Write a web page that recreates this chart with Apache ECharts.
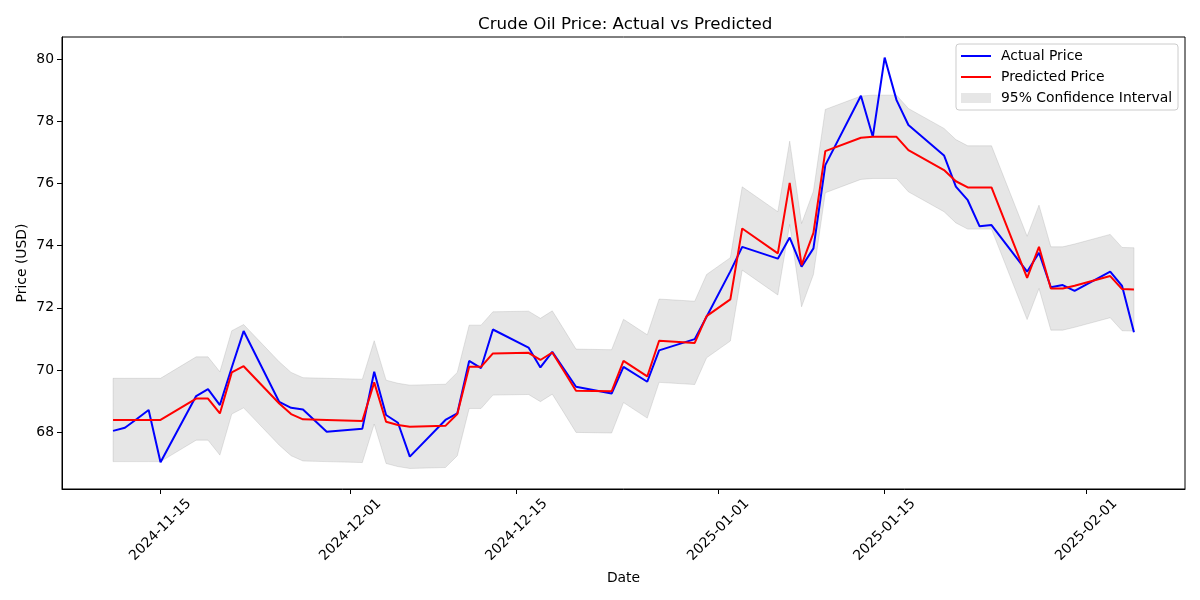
<!DOCTYPE html>
<html>
<head>
<meta charset="utf-8">
<script src="https://cdn.jsdelivr.net/npm/echarts@6/dist/echarts.min.js"></script>
<style>
  html, body { margin: 0; padding: 0; background: #fff; }
  #chart { width: 1200px; height: 600px; }
</style>
</head>
<body>
<div id="chart"></div>
<script>
// trading days shown in the chart
const dates = [
  "2024-11-11", "2024-11-12", "2024-11-13", "2024-11-14", "2024-11-15",
  "2024-11-18", "2024-11-19", "2024-11-20", "2024-11-21", "2024-11-22",
  "2024-11-25", "2024-11-26", "2024-11-27", "2024-11-29",
  "2024-12-02", "2024-12-03", "2024-12-04", "2024-12-05", "2024-12-06",
  "2024-12-09", "2024-12-10", "2024-12-11", "2024-12-12", "2024-12-13",
  "2024-12-16", "2024-12-17", "2024-12-18", "2024-12-19", "2024-12-20",
  "2024-12-23", "2024-12-24", "2024-12-26", "2024-12-27",
  "2024-12-30", "2024-12-31", "2025-01-02", "2025-01-03",
  "2025-01-06", "2025-01-07", "2025-01-08", "2025-01-09", "2025-01-10",
  "2025-01-13", "2025-01-14", "2025-01-15", "2025-01-16", "2025-01-17",
  "2025-01-20", "2025-01-21", "2025-01-22", "2025-01-23", "2025-01-24",
  "2025-01-27", "2025-01-28", "2025-01-29", "2025-01-30", "2025-01-31",
  "2025-02-03", "2025-02-04", "2025-02-05"
];
const actualPrice = [
  68.04, 68.14, 68.42, 68.71, 67.03,
  69.16, 69.38, 68.87, 70.08, 71.25,
  68.97, 68.78, 68.73, 68.01,
  68.11, 69.94, 68.55, 68.30, 67.21,
  68.39, 68.60, 70.29, 70.06, 71.30,
  70.72, 70.08, 70.58, 70.02, 69.46,
  69.24, 70.10, 69.62, 70.63,
  70.99, 71.71, 73.17, 73.96,
  73.58, 74.26, 73.32, 73.91, 76.59,
  78.82, 77.50, 80.05, 78.68, 77.88,
  76.90, 75.90, 75.46, 74.62, 74.66,
  73.16, 73.77, 72.66, 72.73, 72.54,
  73.16, 72.70, 71.21
];
const predictedPrice = [
  68.39, 68.39, 68.39, 68.39, 68.39,
  69.08, 69.08, 68.60, 69.92, 70.12,
  68.92, 68.58, 68.41, 68.39,
  68.36, 69.60, 68.33, 68.23, 68.17,
  68.20, 68.58, 70.10, 70.10, 70.53,
  70.55, 70.32, 70.56, 69.95, 69.33,
  69.31, 70.29, 69.79, 70.94,
  70.87, 71.73, 72.27, 74.55,
  73.75, 76.02, 73.37, 74.41, 77.04,
  77.47, 77.50, 77.50, 77.50, 77.07,
  76.43, 76.07, 75.87, 75.87, 75.87,
  72.96, 73.96, 72.62, 72.62, 72.71,
  73.02, 72.60, 72.59
];
const ciLower = [
  67.05, 67.05, 67.05, 67.05, 67.05,
  67.74, 67.74, 67.26, 68.58, 68.78,
  67.58, 67.24, 67.07, 67.05,
  67.02, 68.26, 66.99, 66.89, 66.83,
  66.86, 67.24, 68.76, 68.76, 69.19,
  69.21, 68.98, 69.22, 68.61, 67.99,
  67.97, 68.95, 68.45, 69.60,
  69.53, 70.39, 70.93, 73.21,
  72.41, 74.68, 72.03, 73.07, 75.70,
  76.13, 76.16, 76.16, 76.16, 75.73,
  75.09, 74.73, 74.53, 74.53, 74.53,
  71.62, 72.62, 71.28, 71.28, 71.37,
  71.68, 71.26, 71.25
];
const ciUpper = [
  69.73, 69.73, 69.73, 69.73, 69.73,
  70.42, 70.42, 69.94, 71.26, 71.46,
  70.26, 69.92, 69.75, 69.73,
  69.70, 70.94, 69.67, 69.57, 69.51,
  69.54, 69.92, 71.44, 71.44, 71.87,
  71.89, 71.66, 71.90, 71.29, 70.67,
  70.65, 71.63, 71.13, 72.28,
  72.21, 73.07, 73.61, 75.89,
  75.09, 77.36, 74.71, 75.75, 78.38,
  78.81, 78.84, 78.84, 78.84, 78.41,
  77.77, 77.41, 77.21, 77.21, 77.21,
  74.30, 75.30, 73.96, 73.96, 74.05,
  74.36, 73.94, 73.93
];
const xTickDates = ["2024-11-15", "2024-12-01", "2024-12-15", "2025-01-01", "2025-01-15", "2025-02-01"];
const yTicks = [68, 70, 72, 74, 76, 78, 80];

const FONT = "DejaVu Sans";
const DAY = 86400000;
const BAND = "rgba(128,128,128,0.2)";
const LINE_ICON = "path://M0 0 H30 V2 H0 Z";

function toTime(s) {
  const p = s.split("-").map(Number);
  return new Date(p[0], p[1] - 1, p[2]).getTime();
}
function pad(n) { return n < 10 ? "0" + n : "" + n; }
function fmtDate(v) {
  const d = new Date(v);
  return d.getFullYear() + "-" + pad(d.getMonth() + 1) + "-" + pad(d.getDate());
}

const times = dates.map(toTime);
const xMin = times[0] - 4.3 * DAY;
const xMax = times[times.length - 1] + 4.3 * DAY;
const xTicks = xTickDates.map(toTime);

// whole confidence band as one polygon: upper edge forward, lower edge back
function renderBand(params, api) {
  if (params.dataIndex !== 0) return;
  const pts = [];
  for (let i = 0; i < times.length; i++) pts.push(api.coord([times[i], ciUpper[i]]));
  for (let i = times.length - 1; i >= 0; i--) pts.push(api.coord([times[i], ciLower[i]]));
  return {
    type: "polygon",
    shape: { points: pts },
    style: { fill: BAND, stroke: BAND, lineWidth: 1 }
  };
}

const chart = echarts.init(document.getElementById("chart"));

const option = {
  animation: false,
  backgroundColor: "#ffffff",
  title: {
    text: "Crude Oil Price: Actual vs Predicted",
    left: 473,
    top: 11,
    textStyle: { fontFamily: FONT, fontSize: 16.7, fontWeight: "normal", color: "#000" }
  },
  legend: {
    orient: "vertical",
    right: 22,
    top: 44,
    padding: [5, 6, 5, 5],
    itemWidth: 30,
    itemHeight: 10,
    itemGap: 7,
    borderColor: "#cccccc",
    borderWidth: 1,
    borderRadius: 3,
    backgroundColor: "rgba(255,255,255,0.8)",
    textStyle: { fontFamily: FONT, fontSize: 13.9, color: "#000", lineHeight: 14, padding: [0, 0, 0, 5] },
    data: [
      { name: "Actual Price", icon: LINE_ICON },
      { name: "Predicted Price", icon: LINE_ICON },
      { name: "95% Confidence Interval", icon: "rect" }
    ]
  },
  grid: {
    left: 62,
    right: 15,
    top: 37,
    bottom: 111,
    show: true,
    borderColor: "#000",
    borderWidth: 1,
    backgroundColor: "transparent"
  },
  xAxis: {
    type: "value",
    min: xMin,
    max: xMax,
    scale: true,
    name: "Date",
    nameLocation: "middle",
    nameGap: 82,
    nameMoveOverlap: false,
    nameTextStyle: { fontFamily: FONT, fontSize: 13.9, color: "#000" },
    axisLine: { show: true, lineStyle: { color: "#000", width: 1 } },
    axisTick: { show: true, length: 5, lineStyle: { color: "#000" }, customValues: xTicks },
    axisLabel: {
      customValues: xTicks,
      formatter: fmtDate,
      rotate: 45,
      align: "center",
      verticalAlign: "middle",
      margin: 41,
      fontFamily: FONT,
      fontSize: 13.9,
      color: "#000"
    },
    splitLine: { show: false }
  },
  yAxis: {
    type: "value",
    min: 66.169,
    max: 80.711,
    name: "Price (USD)",
    nameLocation: "middle",
    nameGap: 33,
    nameMoveOverlap: false,
    nameTextStyle: { fontFamily: FONT, fontSize: 13.9, color: "#000" },
    axisLine: { show: true, lineStyle: { color: "#000", width: 1 } },
    axisTick: { show: true, length: 5, lineStyle: { color: "#000" }, customValues: yTicks },
    axisLabel: { customValues: yTicks, margin: 8, fontFamily: FONT, fontSize: 13.9, color: "#000" },
    splitLine: { show: false }
  },
  series: [
    {
      name: "95% Confidence Interval",
      type: "custom",
      renderItem: renderBand,
      data: times.map((t, i) => [t, ciLower[i], ciUpper[i]]),
      encode: { x: 0, y: [1, 2] },
      itemStyle: { color: BAND },
      silent: true,
      clip: true,
      z: 1
    },
    {
      name: "Actual Price",
      type: "line",
      symbol: "none",
      data: times.map((t, i) => [t, actualPrice[i]]),
      itemStyle: { color: "#0000ff" },
      lineStyle: { color: "#0000ff", width: 2 },
      z: 3
    },
    {
      name: "Predicted Price",
      type: "line",
      symbol: "none",
      data: times.map((t, i) => [t, predictedPrice[i]]),
      itemStyle: { color: "#ff0000" },
      lineStyle: { color: "#ff0000", width: 2 },
      z: 4
    }
  ]
};

chart.setOption(option);
</script>
</body>
</html>
